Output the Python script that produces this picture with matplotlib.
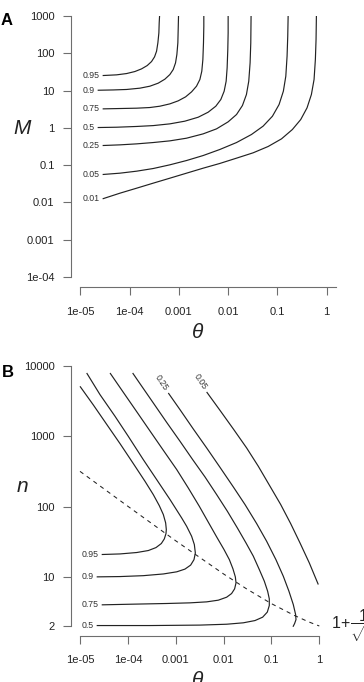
import matplotlib
matplotlib.use("Agg")
import matplotlib.pyplot as plt

plt.rcParams['font.family'] = ['Liberation Sans', 'DejaVu Sans']
plt.rcParams['mathtext.fontset'] = 'custom'
plt.rcParams['mathtext.rm'] = 'Liberation Sans'
plt.rcParams['mathtext.it'] = 'Liberation Sans:italic'

# ---- panel A: contours of M against theta ----
a_xticks = [1e-5, 1e-4, 1e-3, 1e-2, 1e-1, 1]
a_xticklabels = ["1e-05", "1e-04", "0.001", "0.01", "0.1", "1"]
a_yticks = [1e-4, 1e-3, 1e-2, 1e-1, 1, 10, 100, 1000]
a_yticklabels = ["1e-04", "0.001", "0.01", "0.1", "1", "10", "100", "1000"]

a_levels = ["0.95", "0.9", "0.75", "0.5", "0.25", "0.05", "0.01"]
a_theta_095 = [2.84e-5, 5.45e-5, 8.69e-5, 1.28e-4, 1.75e-4, 2.28e-4, 2.79e-4, 3.21e-4,
               3.53e-4, 3.75e-4, 3.93e-4, 3.99e-4, 4.06e-4]
a_m_095 = [25.3, 26.4, 28.6, 32.4, 38.2, 46.9, 60.0, 80.1, 114, 190, 352, 653, 1000]
a_theta_09 = [2.25e-5, 4.67e-5, 8.69e-5, 1.62e-4, 2.58e-4, 3.81e-4, 5.20e-4, 6.57e-4,
              7.68e-4, 8.56e-4, 9.11e-4, 9.54e-4, 9.69e-4, 9.84e-4]
a_m_09 = [10.2, 10.4, 10.7, 11.6, 13.1, 15.8, 20.2, 26.9, 36.6, 55.3, 92.5, 190, 433, 1000]
a_theta_075 = [2.84e-5, 6.37e-5, 1.39e-4, 2.58e-4, 4.12e-4, 6.57e-4, 9.69e-4, 1.37e-3,
               1.81e-3, 2.28e-3, 2.67e-3, 2.92e-3, 3.07e-3, 3.16e-3, 3.21e-3, 3.21e-3]
a_m_075 = [3.23, 3.30, 3.37, 3.51, 3.81, 4.40, 5.30, 6.78, 9.23, 13.1, 19.8, 33.0, 67.9,
           190, 532, 1000]
a_theta_05 = [2.25e-5, 5.45e-5, 1.39e-4, 3.02e-4, 6.57e-4, 1.32e-3, 2.47e-3, 3.93e-3,
              5.62e-3, 7.10e-3, 8.30e-3, 9.11e-3, 9.54e-3, 9.84e-3, 1.0e-2, 1.0e-2]
a_m_05 = [1.02, 1.04, 1.09, 1.15, 1.28, 1.51, 1.93, 2.63, 3.81, 5.75, 9.62, 17.8, 40.6,
          126, 352, 1000]
a_theta_025 = [2.84e-5, 6.37e-5, 1.39e-4, 3.02e-4, 6.57e-4, 1.43e-3, 3.11e-3, 5.81e-3,
               1.0e-2, 1.48e-2, 1.95e-2, 2.35e-2, 2.62e-2, 2.79e-2, 2.88e-2, 2.92e-2]
a_m_025 = [0.336, 0.350, 0.372, 0.404, 0.448, 0.528, 0.690, 0.940, 1.45, 2.28, 3.97,
           7.83, 17.8, 55.3, 190, 1000]
a_theta_005 = [2.84e-5, 6.37e-5, 1.39e-4, 3.02e-4, 6.57e-4, 1.43e-3, 3.11e-3, 6.78e-3,
               1.48e-2, 2.97e-2, 5.12e-2, 7.92e-2, 0.108, 0.132, 0.148, 0.157, 0.162, 0.165]
a_m_005 = [0.0561, 0.0609, 0.0689, 0.0812, 0.102, 0.133, 0.181, 0.263, 0.404, 0.663,
           1.11, 2.05, 4.22, 9.62, 24.3, 83.5, 287, 1000]
a_theta_001 = [2.84e-5, 6.37e-5, 1.39e-4, 3.02e-4, 6.57e-4, 1.43e-3, 3.11e-3, 6.78e-3,
               1.48e-2, 3.21e-2, 6.47e-2, 0.121, 0.201, 0.297, 0.399, 0.489, 0.554,
               0.589, 0.608, 0.618]
a_m_001 = [0.0125, 0.0177, 0.0241, 0.0329, 0.0447, 0.0609, 0.0829, 0.111, 0.154, 0.214,
           0.316, 0.507, 0.902, 1.67, 3.44, 7.83, 19.8, 67.9, 233, 1000]

# ---- panel B: contours of n against theta ----
b_xticks = a_xticks
b_xticklabels = a_xticklabels
b_yticks = [2, 10, 100, 1000, 10000]
b_yticklabels = ["2", "10", "100", "1000", "10000"]

b_levels = ["0.95", "0.9", "0.75", "0.5", "0.25", "0.05"]
b_theta_095 = [2.84e-5, 6.85e-5, 1.53e-4, 2.68e-4, 3.87e-4, 5.00e-4, 5.78e-4, 6.26e-4,
               6.36e-4, 6.16e-4, 5.51e-4, 4.54e-4, 3.40e-4, 2.28e-4, 1.30e-4, 6.85e-5,
               3.61e-5, 1.90e-5, 1e-5]
b_n_095 = [20.8, 21.2, 22.2, 23.7, 26.1, 29.8, 34.7, 41.3, 47.1, 58.6, 77.0, 103, 148,
           229, 409, 787, 1480, 2790, 5140]
b_theta_09 = [2.23e-5, 6.85e-5, 2.10e-4, 5.51e-4, 1.05e-3, 1.56e-3, 2.05e-3, 2.41e-3,
              2.57e-3, 2.45e-3, 2.15e-3, 1.69e-3, 1.33e-3, 7.59e-4, 4.00e-4, 2.10e-4,
              1.02e-4, 5.38e-5, 2.62e-5, 1.38e-5]
b_n_09 = [10.0, 10.1, 10.4, 11.0, 11.8, 12.9, 14.7, 17.6, 21.9, 28.8, 37.8, 52.5, 69.0,
          126, 242, 466, 1000, 1930, 3910, 7950]
b_theta_075 = [2.84e-5, 1.30e-4, 6.46e-4, 1.99e-3, 4.43e-3, 7.76e-3, 1.16e-2, 1.47e-2,
               1.70e-2, 1.82e-2, 1.76e-2, 1.57e-2, 1.32e-2, 1.02e-2, 7.17e-3, 4.80e-3,
               3.11e-3, 1.83e-3, 1.05e-3, 5.51e-4, 2.90e-4, 1.53e-4, 8.04e-5, 4.24e-5]
b_n_075 = [4.00, 4.09, 4.18, 4.27, 4.41, 4.66, 5.14, 5.79, 6.75, 8.22, 10.0, 13.0, 17.6,
           24.5, 37.0, 59.9, 101, 184, 336, 632, 1190, 2240, 4220, 7950]
b_theta_05 = [2.23e-5, 2.90e-4, 3.21e-3, 1.16e-2, 2.58e-2, 4.53e-2, 6.55e-2, 8.19e-2,
              9.02e-2, 9.02e-2, 8.33e-2, 7.10e-2, 5.58e-2, 4.18e-2, 2.94e-2, 1.94e-2,
              1.20e-2, 7.17e-3, 4.09e-3, 2.26e-3, 1.23e-3, 6.46e-4, 3.40e-4, 1.79e-4, 1.26e-4]
b_n_05 = [2.03, 2.03, 2.06, 2.12, 2.22, 2.39, 2.67, 3.15, 3.91, 4.87, 6.25, 8.68, 12.7,
          19.7, 30.4, 49.7, 85.8, 148, 264, 466, 849, 1580, 2980, 5610, 7950]
b_theta_025 = [7.00e-4, 1.23e-3, 2.33e-3, 4.43e-3, 8.41e-3, 1.60e-2, 2.80e-2, 4.91e-2,
               7.94e-2, 0.124, 0.177, 0.232, 0.286, 0.320, 0.326, 0.305, 0.282]
b_n_025 = [4130, 2390, 1270, 683, 362, 190, 107, 57.3, 32.1, 17.6, 10.2, 6.25, 4.04,
           2.91, 2.47, 2.17, 1.95]
b_theta_005 = [4.43e-3, 8.41e-3, 1.60e-2, 3.03e-2, 5.31e-2, 9.32e-2, 0.156, 0.252,
               0.395, 0.618, 0.953]
b_n_005 = [4270, 2340, 1270, 683, 375, 195, 107, 57.3, 30.4, 15.8, 7.78]

b_bound_theta = [1e-5, 1e-4, 1e-3, 1e-2, 3e-2, 1e-1, 0.3, 0.6, 1]
b_bound_n = [317, 101, 32.6, 11.0, 6.77, 4.16, 2.83, 2.29, 2.0]

LINE = "#222222"
AXC = "#6e6e6e"
TXT = "#222222"
LABEL_X = 1.1e-5


def style_axes(ax, xlim, ylim, xticks, xlabels, yticks, ylabels, xbound, ybound, off_x, off_y):
    ax.set_xscale("log")
    ax.set_yscale("log")
    ax.set_xlim(*xlim)
    ax.set_ylim(*ylim)
    ax.set_xticks(xticks)
    ax.set_xticklabels(xlabels)
    ax.set_yticks(yticks)
    ax.set_yticklabels(ylabels)
    ax.minorticks_off()
    for s in ["top", "right"]:
        ax.spines[s].set_visible(False)
    ax.spines["left"].set_position(("outward", off_y))
    ax.spines["bottom"].set_position(("outward", off_x))
    ax.spines["left"].set_bounds(*ybound)
    ax.spines["bottom"].set_bounds(*xbound)
    for s in ["left", "bottom"]:
        ax.spines[s].set_color(AXC)
        ax.spines[s].set_linewidth(0.8)
    ax.tick_params(axis="both", direction="out", length=5.5, width=0.8,
                   color=AXC, labelsize=8, labelcolor=TXT)
    ax.tick_params(axis="x", pad=8.5)
    ax.tick_params(axis="y", pad=6.3)
    ax.patch.set_visible(False)


def left_label(ax, text, y):
    ax.text(LABEL_X, y, text, ha="left", va="center", fontsize=6.3, color="#333333")


fig = plt.figure(figsize=(3.64, 6.82), dpi=100)

# panel A
axA = fig.add_axes([80.3 / 364, 1 - 277 / 682, 246.4 / 364, 261 / 682])
curves_a = [(a_theta_095, a_m_095), (a_theta_09, a_m_09), (a_theta_075, a_m_075),
            (a_theta_05, a_m_05), (a_theta_025, a_m_025), (a_theta_005, a_m_005),
            (a_theta_001, a_m_001)]
for lev, (th, m) in zip(a_levels, curves_a):
    axA.plot(th, m, color=LINE, lw=0.85, solid_capstyle="butt", solid_joinstyle="round")
    left_label(axA, lev, m[0])
style_axes(axA, (1e-5, 1), (1e-4, 1000), a_xticks, a_xticklabels, a_yticks, a_yticklabels,
           (1e-5, 1.58), (1e-4, 1000), 7.4, 6.7)

# panel B
axB = fig.add_axes([80 / 364, 1 - 626 / 682, 239.3 / 364, 260 / 682])
curves_b = [(b_theta_095, b_n_095), (b_theta_09, b_n_09), (b_theta_075, b_n_075),
            (b_theta_05, b_n_05), (b_theta_025, b_n_025), (b_theta_005, b_n_005)]
for lev, (th, n) in zip(b_levels, curves_b):
    axB.plot(th, n, color=LINE, lw=0.85, solid_capstyle="butt", solid_joinstyle="round",
             clip_on=False)
    if lev in ("0.25", "0.05"):
        axB.annotate(lev, xy=(th[0], n[0]), xytext=(-4.8, 7.2), textcoords="offset points",
                     ha="center", va="center", rotation=-56, fontsize=6.3, color="#333333")
    else:
        left_label(axB, lev, n[0])
axB.plot(b_bound_theta, b_bound_n, color=LINE, lw=0.75, dashes=(4, 4), clip_on=False)
style_axes(axB, (1e-5, 1), (2, 10000), b_xticks, b_xticklabels, b_yticks, b_yticklabels,
           (1e-5, 1), (2, 10000), 7.2, 6.5)
axB.annotate(r"$1\!+\!\dfrac{1}{\sqrt{\theta}}$", xy=(b_bound_theta[-1], b_bound_n[-1]),
             xytext=(8.6, 0), textcoords="offset points", ha="left", va="center",
             fontsize=11.5, color=TXT)

# axis titles and panel letters
fig.text(22 / 364, 1 - 128 / 682, "M", style="italic", fontsize=15, ha="center", va="center", color=TXT)
fig.text(198 / 364, 1 - 332 / 682, "θ", style="italic", fontsize=15, ha="center", va="center", color=TXT)
fig.text(22 / 364, 1 - 487 / 682, "n", style="italic", fontsize=15, ha="center", va="center", color=TXT)
fig.text(198 / 364, 1 - 681 / 682, "θ", style="italic", fontsize=15, ha="center", va="center", color=TXT)
fig.text(0.5 / 364, 1 - 20.5 / 682, "A", fontweight="bold", fontsize=12, ha="left", va="center")
fig.text(2 / 364, 1 - 372.5 / 682, "B", fontweight="bold", fontsize=12, ha="left", va="center")

fig.savefig("out.png", dpi=100)
